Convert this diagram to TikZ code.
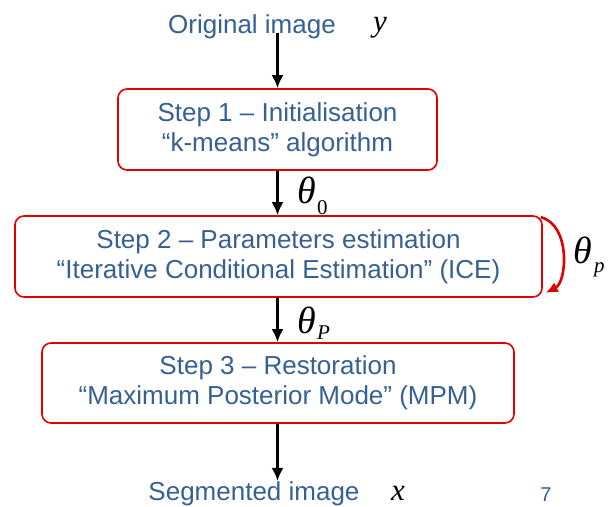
\documentclass[tikz,border=0pt]{standalone}
\usepackage{fontspec}
\setmainfont{Liberation Sans}
\newfontfamily\timesfont{Liberation Serif}
\usepackage{tikz}
\usetikzlibrary{arrows.meta,positioning,calc}
\definecolor{stepblue}{RGB}{54,96,146}
\definecolor{stepred}{RGB}{225,0,0}

\begin{document}
\begin{tikzpicture}[
            x=1pt, y=-1pt,
            stepbox/.style={draw=stepred, line width=1.6pt, rounded corners=9pt, align=center, inner sep=0pt, text=stepblue, font=\fontsize{26}{30}\selectfont},
            lab/.style={text=stepblue, inner sep=0pt, font=\fontsize{26}{30}\selectfont},
            var/.style={inner sep=0pt, font=\timesfont\itshape\fontsize{31}{31}\selectfont},
            th/.style={inner sep=0pt, anchor=base west, font=\timesfont\itshape\fontsize{38}{38}\selectfont},
            idx/.style={inner sep=0pt, anchor=base west, font=\timesfont\fontsize{21}{21}\selectfont},
            flow/.style={-{Latex[length=13pt,width=12pt]}, line width=2.4pt},
            feedback/.style={-{Latex[length=12pt,width=11pt]}, line width=2.6pt, draw=stepred}
        ]

        \useasboundingbox (0,0) rectangle (610,506);

% --- input / output ---
            \node[lab, anchor=base] (orig) at (252,33) {Original image};
            \node[var, anchor=base] (yv) at (380,31) {y};
            \node[lab, anchor=base] (seg) at (254,500) {Segmented image};
            \node[var, anchor=base] (xv) at (398,500) {x};

% --- steps ---
            \node[stepbox, minimum width=319pt, minimum height=81pt] (s1) at (277.5,129.5) {Step 1 – Initialisation\\“k-means” algorithm};
            \node[stepbox, minimum width=527pt, minimum height=81pt] (s2) at (278.5,256.5) {Step 2 – Parameters estimation\\“Iterative Conditional Estimation” (ICE)};
            \node[stepbox, minimum width=472pt, minimum height=80pt] (s3) at (278,383) {Step 3 – Restoration\\“Maximum Posterior Mode” (MPM)};

% --- flow arrows ---
            \draw[flow] (orig.base -| s1.north) -- (s1.north);
            \draw[flow] (s1.south) -- (s1.south |- s2.north);
            \draw[flow] (s1.south |- s2.south) -- (s1.south |- s3.north);
            \draw[flow] (s1.south |- s3.south) -- (s1.south |- seg.north);

% --- ICE loop ---
            \draw[feedback] ([shift={(-2,2)}]s2.north east) .. controls (571,225) and (567,282) .. ([shift={(3,-5)}]s2.south east);

% --- parameter labels ---
            \node[th] (t0) at (297,203) {θ};
            \node[idx] (t0i) at (317,214) {0};
            \node[th] (tP) at (297,333) {θ};
            \node[idx] (tPi) at (317,339) {\itshape P};
            \node[th] (tp) at (573,263) {θ};
            \node[idx] (tpi) at (594,272) {\itshape p};

% --- page number ---
            \node[lab, anchor=base, font=\fontsize{20}{20}\selectfont] (pg) at (546,501) {7};

        \end{tikzpicture}
\end{document}
